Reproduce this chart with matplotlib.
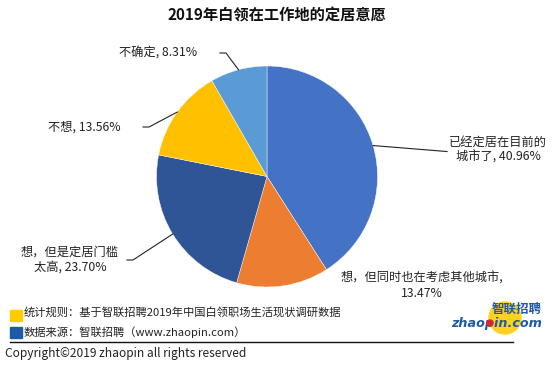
import numpy as np
import matplotlib
matplotlib.use('Agg')
import matplotlib.pyplot as plt
from matplotlib.patches import Rectangle, Circle

plt.rcParams['font.family'] = ['Noto Sans CJK SC', 'DejaVu Sans']

# data
title = '2019年白领在工作地的定居意愿'
categories = ['已经定居在目前的\n城市了', '想，但同时也在考虑其他城市,\n', '想，但是定居门槛\n太高',
              '不想', '不确定']
values = [40.96, 13.47, 23.70, 13.56, 8.31]
colors = ['#4472C4', '#ED7D31', '#2F5597', '#FFC000', '#5B9BD5']

W, H = 554, 371
fig = plt.figure(figsize=(W / 100, H / 100), dpi=100)
ax = fig.add_axes([0, 0, 1, 1])

# pie in pixel space (y axis inverted, so counterclock=True draws clockwise)
cx, cy, r = 267, 176.5, 110.5
wedges, _ = ax.pie(values, colors=colors, startangle=-90, counterclock=True,
                   center=(cx, cy), radius=r, frame=True,
                   wedgeprops=dict(edgecolor='white', linewidth=0.3))
ax.set_xlim(0, W)
ax.set_ylim(H, 0)
ax.axis('off')

# label placement: (text x, text y, elbow x or None)
label_pos = [
    (498, 150, 447),
    (422, 286, None),
    (70, 260, 127),
    (84, 127, 143),
    (158, 53, 220),
]

cum = np.cumsum([0] + values[:-1])
for i, (lab, v) in enumerate(zip(categories, values)):
    tx, ty, ex = label_pos[i]
    if lab.endswith('\n'):
        txt = f'{lab}{v:.2f}%'
    else:
        txt = f'{lab}, {v:.2f}%'
    ax.text(tx, ty, txt, ha='center', va='center', fontsize=8.8, color='#222222',
            linespacing=1.2)
    if ex is None:
        continue
    mid = np.deg2rad(90 - (cum[i] + v / 2) * 3.6)
    px, py = cx + r * np.cos(mid), cy - r * np.sin(mid)
    if i == 0:
        ax.plot([px, ex], [py, py + 6], color='#222222', lw=0.8)
    else:
        ax.plot([ex, ex + 6, px], [ty, ty, py], color='#222222', lw=0.8)

ax.text(277, 16, title, ha='center', va='center', fontsize=11, fontweight='bold',
        color='#111111')

# footer
ax.add_patch(Rectangle((10, 310), 12, 11, color='#FFCC00'))
ax.add_patch(Rectangle((10, 327), 12, 11, color='#1F5AA6'))
ax.text(24, 313, '统计规则：基于智联招聘2019年中国白领职场生活现状调研数据', ha='left', va='center',
        fontsize=8.1, color='#222222')
ax.text(24, 332, '数据来源：智联招聘（www.zhaopin.com）', ha='left', va='center',
        fontsize=8.1, color='#222222')
ax.plot([10, 513], [342, 342], color='#111111', lw=1)
ax.text(5, 354, 'Copyright©2019 zhaopin all rights reserved', ha='left', va='center',
        fontsize=8.6, color='#222222')

# logo
ax.add_patch(Circle((505, 318), 16, color='#FFD21F', zorder=3))
ax.add_patch(Circle((490, 323), 3, color='#D9262B', zorder=5))
ax.text(542, 309, '智联招聘', ha='right', va='center', fontsize=9, fontweight='bold',
        style='italic', color='#1F5AA6', zorder=4)
ax.text(542, 323, 'zhaopin.com', ha='right', va='center', fontsize=9.2, fontweight='bold',
        style='italic', color='#1F5AA6', family='DejaVu Sans', zorder=4)

fig.savefig('out.png', dpi=100)
